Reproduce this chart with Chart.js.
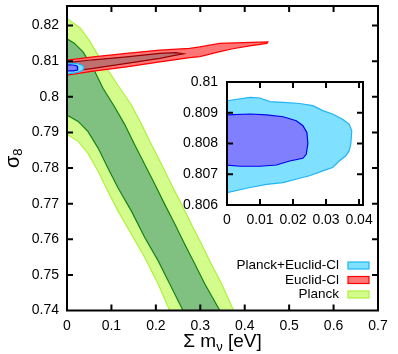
<!DOCTYPE html>
<html><head><meta charset="utf-8">
<script src="https://cdn.jsdelivr.net/npm/chart.js@4"></script>
<style>
html,body{margin:0;padding:0;background:#fff;}
#wrap{position:relative;width:398px;height:354px;overflow:hidden;}
#main{position:absolute;left:0;top:0;}
#inset{position:absolute;left:170px;top:70px;}
</style></head><body>
<div id="wrap"><canvas id="main" width="398" height="354"></canvas><canvas id="inset" width="210" height="170"></canvas></div>
<script>
// ---- tick values / labels ----
const xTicks = [0, 0.1, 0.2, 0.3, 0.4, 0.5, 0.6, 0.7];
const xTickLabels = ['0', '0.1', '0.2', '0.3', '0.4', '0.5', '0.6', '0.7'];
const yTicks = [0.74, 0.75, 0.76, 0.77, 0.78, 0.79, 0.80, 0.81, 0.82];
const yTickLabels = ['0.74', '0.75', '0.76', '0.77', '0.78', '0.79', '0.8', '0.81', '0.82'];
const insetXTicks = [0, 0.01, 0.02, 0.03, 0.04];
const insetXTickLabels = ['0', '0.01', '0.02', '0.03', '0.04'];
const insetYTicks = [0.806, 0.807, 0.808, 0.809, 0.81];
const insetYTickLabels = ['0.806', '0.807', '0.808', '0.809', '0.81'];
const legendLabels = ['Planck+Euclid-Cl', 'Euclid-Cl', 'Planck'];

// ---- contour outlines (Σm_ν [eV], σ8) ----
// Planck 95% region
const planckOuterX = [0, 0.029, 0.051, 0.074, 0.096, 0.119, 0.145, 0.168, 0.190, 0.213, 0.235, 0.258, 0.280, 0.303, 0.325, 0.348, 0.375,
                      0.231, 0.205, 0.175, 0.145, 0.115, 0.092, 0.070, 0.047, 0.025, 0];
const planckOuterY = [0.8220, 0.8194, 0.8157, 0.8108, 0.8067, 0.8024, 0.7977, 0.7922, 0.7866, 0.7810, 0.7754, 0.7698, 0.7642, 0.7586, 0.7530, 0.7475, 0.7400,
                      0.7400, 0.7475, 0.7549, 0.7614, 0.7679, 0.7735, 0.7791, 0.7842, 0.7875, 0.7895];
// Planck 68% region
const planckInnerX = [0, 0.017, 0.036, 0.059, 0.081, 0.107, 0.130, 0.152, 0.175, 0.198, 0.220, 0.243, 0.265, 0.288, 0.310, 0.344,
                      0.261, 0.235, 0.205, 0.175, 0.145, 0.115, 0.092, 0.070, 0.047, 0.025, 0];
const planckInnerY = [0.8163, 0.8150, 0.8126, 0.8080, 0.8024, 0.7972, 0.7922, 0.7866, 0.7810, 0.7754, 0.7698, 0.7642, 0.7586, 0.7530, 0.7475, 0.7400,
                      0.7400, 0.7465, 0.7540, 0.7605, 0.7679, 0.7744, 0.7800, 0.7856, 0.7903, 0.7931, 0.7949];
// Euclid-Cl 95% region
const euclidOuterX = [0, 0.059, 0.134, 0.209, 0.276, 0.299, 0.344, 0.396, 0.452,
                      0.450, 0.411, 0.373, 0.337, 0.299, 0.276, 0.209, 0.134, 0.059, 0];
const euclidOuterY = [0.8103, 0.8112, 0.8122, 0.8131, 0.8136, 0.8140, 0.8150, 0.8152, 0.8154,
                      0.8150, 0.8143, 0.8135, 0.8125, 0.8113, 0.8110, 0.8098, 0.8084, 0.8072, 0.8061];
// Euclid-Cl 68% region
const euclidInnerX = [0, 0.059, 0.134, 0.209, 0.245, 0.262, 0.245, 0.209, 0.134, 0.059, 0];
const euclidInnerY = [0.8096, 0.8104, 0.8112, 0.8122, 0.8124, 0.8121, 0.8117, 0.8108, 0.8094, 0.8080, 0.8070];
// Planck+Euclid-Cl 95% region
const jointOuterX = [0, 0.007, 0.010, 0.013, 0.017, 0.022, 0.026, 0.029, 0.032, 0.035, 0.037, 0.0378, 0.0375, 0.037, 0.036, 0.034, 0.032, 0.029, 0.025, 0.022, 0.017, 0.012, 0.007, 0];
const jointOuterY = [0.80939, 0.8095, 0.80948, 0.80936, 0.80934, 0.8093, 0.80923, 0.80907, 0.80896, 0.80879, 0.80863, 0.80841, 0.80798, 0.80776, 0.8076, 0.80743, 0.80722, 0.80711, 0.80695, 0.80687, 0.80673, 0.80667, 0.80657, 0.8064];
// Planck+Euclid-Cl 68% region
const jointInnerX = [0, 0.007, 0.012, 0.017, 0.021, 0.023, 0.0242, 0.0245, 0.024, 0.023, 0.019, 0.015, 0.010, 0.004, 0];
const jointInnerY = [0.80893, 0.80896, 0.80893, 0.80887, 0.80874, 0.80858, 0.80836, 0.808, 0.80765, 0.80752, 0.80743, 0.8073, 0.80726, 0.80726, 0.8073];

// ---- styles ----
const C = {
  planckOuter: {fill: 'rgb(212,252,140)', line: 'rgb(176,240,60)'},
  planckInner: {fill: 'rgb(128,192,128)', line: 'rgb(20,130,20)'},
  euclidOuter: {fill: 'rgb(255,118,118)', line: 'rgb(255,0,0)'},
  euclidInner: {fill: 'rgb(192,112,112)', line: 'rgb(150,0,0)'},
  jointOuter: {fill: 'rgb(128,224,255)', line: 'rgb(30,180,245)'},
  jointInner: {fill: 'rgb(128,128,255)', line: 'rgb(0,0,235)'}
};
const FONT = "'Liberation Sans', Arial, Helvetica, sans-serif";
Chart.defaults.font.family = FONT;
Chart.defaults.font.size = 14;
Chart.defaults.color = '#000';

function closed(xs, ys) {
  const p = xs.map((x, i) => ({x: x, y: ys[i]}));
  p.push({x: xs[0], y: ys[0]});
  return p;
}
function region(xs, ys, col, order) {
  return {data: closed(xs, ys), showLine: true, fill: 'shape', backgroundColor: col.fill,
          borderColor: col.line, borderWidth: 1.2, pointRadius: 0, pointHoverRadius: 0, tension: 0, order: order};
}

const framePlugin = {
  id: 'frame',
  afterDatasetsDraw(chart, args, opts) {
    const {ctx, chartArea: a, scales} = chart;
    const L = opts.tickLen || 6;
    ctx.save();
    ctx.strokeStyle = '#000';
    ctx.lineWidth = 2;
    ctx.beginPath();
    scales.x.ticks.forEach(t => {
      const px = scales.x.getPixelForValue(t.value);
      if (px <= a.left + 1 || px >= a.right - 1) return;
      ctx.moveTo(px, a.bottom); ctx.lineTo(px, a.bottom - L);
      ctx.moveTo(px, a.top); ctx.lineTo(px, a.top + L);
    });
    scales.y.ticks.forEach(t => {
      const py = scales.y.getPixelForValue(t.value);
      if (py <= a.top + 1 || py >= a.bottom - 1) return;
      ctx.moveTo(a.left, py); ctx.lineTo(a.left + L, py);
      ctx.moveTo(a.right, py); ctx.lineTo(a.right - L, py);
    });
    ctx.stroke();
    ctx.strokeRect(a.left, a.top, a.right - a.left, a.bottom - a.top);
    ctx.restore();
  }
};

const annotPlugin = {
  id: 'annot',
  afterDraw(chart) {
    const {ctx, chartArea: a} = chart;
    ctx.save();
    ctx.fillStyle = '#000';
    // legend
    const cols = [C.jointOuter, C.euclidOuter, C.planckOuter];
    const rowsY = [265.5, 280, 294.5];
    ctx.font = '13.5px ' + FONT;
    ctx.textAlign = 'right';
    ctx.textBaseline = 'middle';
    legendLabels.forEach((t, i) => {
      ctx.fillStyle = '#000';
      ctx.fillText(t, 339, rowsY[i]);
      ctx.fillStyle = cols[i].fill;
      ctx.fillRect(348, rowsY[i] - 3.5, 21, 7);
      ctx.strokeStyle = cols[i].line;
      ctx.lineWidth = 1.2;
      ctx.strokeRect(348, rowsY[i] - 3.5, 21, 7);
    });
    // x title: Σ m_ν [eV]
    ctx.fillStyle = '#000';
    ctx.textAlign = 'left';
    ctx.textBaseline = 'alphabetic';
    const big = '19px ' + FONT, small = '13px ' + FONT;
    ctx.font = big; const w1 = ctx.measureText('Σ m').width;
    ctx.font = small; const w2 = ctx.measureText('ν').width;
    ctx.font = big; const w3 = ctx.measureText(' [eV]').width;
    const cx = (a.left + a.right) / 2;
    let x0 = cx - (w1 + w2 + w3) / 2;
    const by = 346.5;
    ctx.font = big; ctx.fillText('Σ m', x0, by);
    ctx.font = small; ctx.fillText('ν', x0 + w1, by + 4);
    ctx.font = big; ctx.fillText(' [eV]', x0 + w1 + w2, by);
    // y title: σ_8
    ctx.translate(19, (a.top + a.bottom) / 2);
    ctx.rotate(-Math.PI / 2);
    ctx.font = '20px ' + FONT; const s1 = ctx.measureText('σ').width;
    ctx.font = small; const s2 = ctx.measureText('8').width;
    const sx = -(s1 + s2) / 2;
    ctx.font = '20px ' + FONT; ctx.fillText('σ', sx, 0);
    ctx.font = small; ctx.fillText('8', sx + s1, 3);
    ctx.restore();
  }
};

const insetBg = {
  id: 'insetBg',
  beforeDatasetsDraw(chart) {
    const {ctx, chartArea: a} = chart;
    ctx.save(); ctx.fillStyle = '#fff';
    ctx.fillRect(a.left, a.top, a.right - a.left, a.bottom - a.top);
    ctx.restore();
  }
};

function axisOpts(min, max, ticks, labels, pad, fitProp, fitVal) {
  return {
    type: 'linear', min: min, max: max,
    grid: {display: false, drawTicks: false}, border: {display: false},
    afterBuildTicks: s => { s.ticks = ticks.map(v => ({value: v})); },
    ticks: {autoSkip: false, maxRotation: 0, minRotation: 0, padding: pad,
            font: {size: 14}, color: '#000',
            callback: (v, i) => labels[i]},
    afterFit: s => {
      s[fitProp] = fitVal;
      s.paddingTop = 0; s.paddingBottom = 0; s.paddingLeft = 0; s.paddingRight = 0;
    }
  };
}

new Chart(document.getElementById('main'), {
  type: 'scatter',
  data: {datasets: [
    region(planckOuterX, planckOuterY, C.planckOuter, 6),
    region(planckInnerX, planckInnerY, C.planckInner, 5),
    region(euclidOuterX, euclidOuterY, C.euclidOuter, 4),
    region(euclidInnerX, euclidInnerY, C.euclidInner, 3),
    region(jointOuterX, jointOuterY, C.jointOuter, 2),
    region(jointInnerX, jointInnerY, C.jointInner, 1)
  ]},
  options: {
    responsive: false, animation: false, devicePixelRatio: 1,
    layout: {padding: {left: 0, right: 20, top: 6, bottom: 0}},
    scales: {
      x: axisOpts(0, 0.7, xTicks, xTickLabels, 7, 'height', 43.5),
      y: axisOpts(0.74, 0.8255, yTicks, yTickLabels, 8, 'width', 67)
    },
    plugins: {legend: {display: false}, tooltip: {enabled: false}, frame: {tickLen: 6}}
  },
  plugins: [framePlugin, annotPlugin]
});

new Chart(document.getElementById('inset'), {
  type: 'scatter',
  data: {datasets: [
    region(jointOuterX, jointOuterY, C.jointOuter, 2),
    region(jointInnerX, jointInnerY, C.jointInner, 1)
  ]},
  options: {
    responsive: false, animation: false, devicePixelRatio: 1,
    layout: {padding: {left: 0, right: 17, top: 12, bottom: 0}},
    scales: {
      x: axisOpts(0, 0.0412, insetXTicks, insetXTickLabels, 7, 'height', 35),
      y: axisOpts(0.806, 0.81, insetYTicks, insetYTickLabels, 9, 'width', 57)
    },
    plugins: {legend: {display: false}, tooltip: {enabled: false}, frame: {tickLen: 6}}
  },
  plugins: [insetBg, framePlugin]
});
</script>
</body></html>
